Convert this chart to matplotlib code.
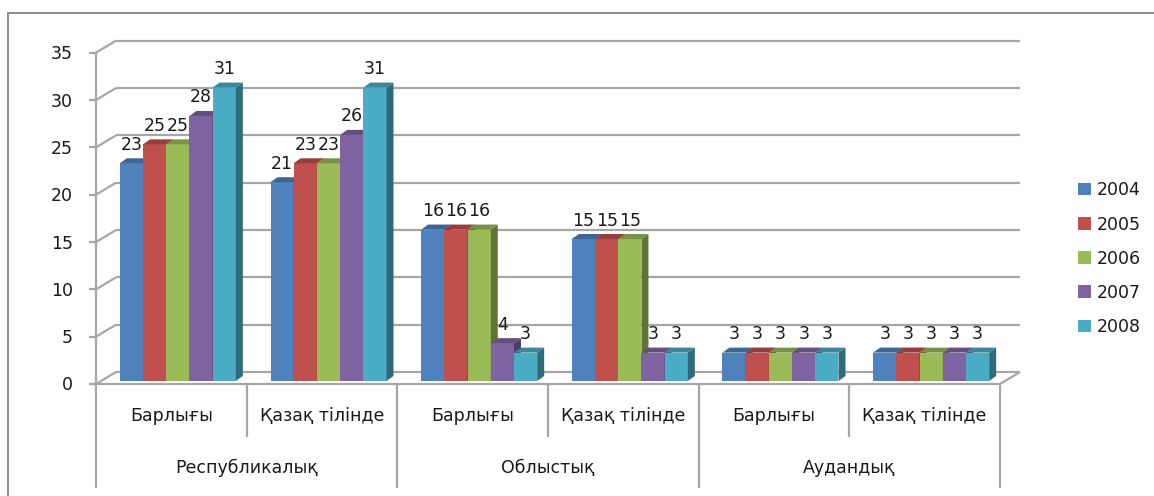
import matplotlib
matplotlib.use("Agg")
import matplotlib.pyplot as plt
from matplotlib.patches import Polygon, Rectangle
from matplotlib.lines import Line2D
import numpy as np

# data
subcats = ["Барлығы", "Қазақ тілінде"] * 3
groups = ["Республикалық", "Облыстық", "Аудандық"]
years = ["2004", "2005", "2006", "2007", "2008"]
v2004 = [23, 21, 16, 15, 3, 3]
v2005 = [25, 23, 16, 15, 3, 3]
v2006 = [25, 23, 16, 15, 3, 3]
v2007 = [28, 26, 4, 3, 3, 3]
v2008 = [31, 31, 3, 3, 3, 3]
yticks = [0, 5, 10, 15, 20, 25, 30, 35]

series = [v2004, v2005, v2006, v2007, v2008]
colors = ["#4F81BD", "#C0504D", "#9BBB59", "#8064A2", "#4BACC6"]
FS = 12.5
TXT = "#1a1a1a"

W, H = 1154, 496
fig = plt.figure(figsize=(W / 100, H / 100), dpi=100)
ax = fig.add_axes([96 / W, (H - 384) / H, 904 / W, (384 - 52.7) / H])
ax.set_xlim(0, len(subcats))
ax.set_ylim(0, 35)
ax.axis("off")

o = ax.transData.transform((0, 0))
pxx, pxy = ax.transData.transform((1, 1)) - o


def dpx(dx, dy):
    # pixel offset -> data offset
    return dx / pxx, dy / pxy


grid_c = "#A6A6A6"
gkw = dict(color=grid_c, lw=1.6, clip_on=False, solid_capstyle="butt")

# back wall + floor
BX, BY = dpx(20, 12)
for v in yticks:
    ax.plot([BX, 6 + BX], [v + BY, v + BY], zorder=1, **gkw)
    ax.plot([0, BX], [v, v + BY], zorder=1, **gkw)
    ax.plot([-7 / pxx, 0], [v, v], zorder=1, **gkw)
    ax.text(-23 / pxx, v - 1.5 / pxy, str(v), ha="right", va="center",
            fontsize=FS, color=TXT)
ax.plot([0, 6], [0, 0], zorder=1, **gkw)
ax.plot([6, 6 + BX], [0, BY], zorder=1, **gkw)
ax.plot([0, 0], [0, 35], zorder=1, **gkw)

# category axis separators
long_y = -104 / pxy
short_y = -53 / pxy
for xs in [0, 2, 4, 6]:
    ax.plot([xs, xs], [0, long_y], zorder=1, **gkw)
for xs in [1, 3, 5]:
    ax.plot([xs, xs], [0, short_y], zorder=1, **gkw)

for i, s in enumerate(subcats):
    ax.text(i + 0.5, -32 / pxy, s, ha="center", va="center", fontsize=FS,
            color=TXT, clip_on=False)
for i, g in enumerate(groups):
    ax.text(2 * i + 1, -84 / pxy, g, ha="center", va="center", fontsize=FS,
            color=TXT, clip_on=False)

# bars (pseudo 3D)
bw = 23.2 / pxx
sx, sy = dpx(6.5, 3)
ddx, ddy = dpx(7, 5)
x0 = np.arange(len(subcats)) + 0.5 - 2.5 * bw + sx


def shade(c, f):
    r, g, b = matplotlib.colors.to_rgb(c)
    return (r * f, g * f, b * f)


z = 5
for i in range(len(subcats)):
    for k, vals in enumerate(series):
        l = x0[i] + k * bw
        r = l + bw
        h = vals[i]
        b0 = sy
        ax.add_patch(Rectangle((l, b0), bw, h, color=colors[k], lw=0, zorder=z))
        ax.add_patch(Polygon([(r, b0), (r + ddx, b0 + ddy), (r + ddx, b0 + h + ddy),
                              (r, b0 + h)], closed=True, color=shade(colors[k], 0.62),
                             lw=0, zorder=z))
        ax.add_patch(Polygon([(l, b0 + h), (r, b0 + h), (r + ddx, b0 + h + ddy),
                              (l + ddx, b0 + h + ddy)], closed=True,
                             color=shade(colors[k], 0.78), lw=0, zorder=z))
        z += 1
        ax.text(l + bw / 2, b0 + h + 18.5 / pxy, str(h), ha="center", va="center",
                fontsize=FS, color=TXT, zorder=100)

# legend
for k, yr in enumerate(years):
    yc = 189.3 + 34.2 * k
    fig.add_artist(Rectangle((1078 / W, 1 - (yc + 6) / H), 12.5 / W, 12.5 / H,
                             transform=fig.transFigure, color=colors[k], lw=0))
    fig.text(1097 / W, 1 - (yc + 1) / H, yr, ha="left", va="center",
             fontsize=FS, color=TXT)

# outer frame
fig.add_artist(Line2D([8 / W, 1], [1 - 13 / H, 1 - 13 / H], color="#8c8c8c",
                      lw=1.4, transform=fig.transFigure))
fig.add_artist(Line2D([8 / W, 8 / W], [0, 1 - 13 / H], color="#8c8c8c",
                      lw=1.4, transform=fig.transFigure))

fig.savefig("out.png", dpi=100, facecolor="white")
